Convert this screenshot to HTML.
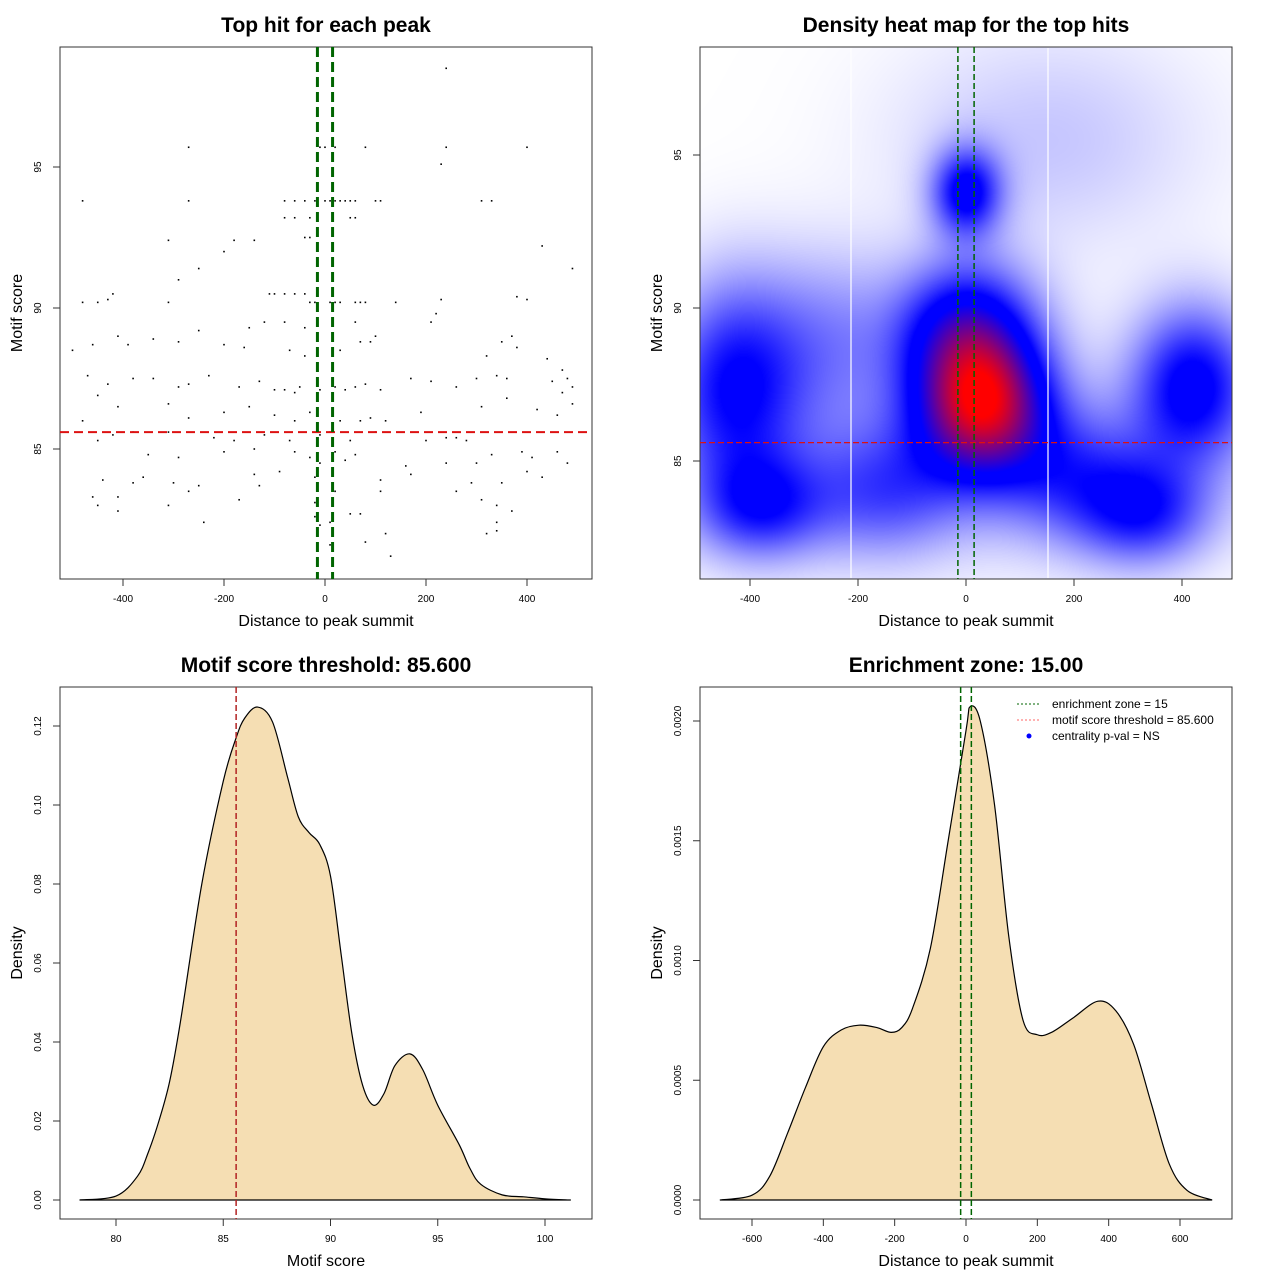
<!DOCTYPE html>
<html><head><meta charset="utf-8"><style>
body{margin:0;background:#fff;}
#wrap{position:relative;width:1280px;height:1280px;font-family:"Liberation Sans",sans-serif;}
canvas{position:absolute;left:700px;top:47px;}
svg{position:absolute;left:0;top:0;}
</style></head><body>
<div id="wrap">
<canvas id="hm" width="532" height="532"></canvas>
<svg id="s" width="1280" height="1280" xmlns="http://www.w3.org/2000/svg"></svg>
</div>
<script>
// ---------- data ----------
const scatterX=[240,-270,-10,0,20,80,240,400,230,-480,-270,-80,-60,-40,-20,0,10,20,30,40,50,60,100,110,310,330,-80,-60,-30,50,60,-40,-30,-310,-180,-140,-200,430,-250,490,-290,-110,-100,-80,-60,-40,-420,-430,-450,-480,-310,-30,-20,10,20,30,60,70,80,140,230,380,400,-250,-150,-120,-80,-40,60,100,-410,-460,-390,-340,-290,-200,-160,-70,-40,70,90,30,210,220,320,350,370,380,440,470,480,490,-500,-470,-430,-380,-340,-290,-270,-230,-170,-130,-100,-80,-60,-50,-10,20,40,60,80,110,170,210,260,300,340,360,450,470,-450,-410,-310,-270,-200,-150,-100,-60,-30,30,70,90,120,190,310,360,420,460,490,-480,-420,-310,-220,-180,-120,-70,-10,10,50,100,200,240,260,280,-450,-380,-350,-290,-200,-140,-60,-30,-10,20,40,60,160,240,300,330,390,410,460,480,-360,-300,-250,-140,-90,-20,20,110,170,260,290,350,400,430,-440,-460,-410,-380,-450,-410,-310,-270,-170,-130,-20,50,70,110,310,340,370,-240,-10,-20,10,340,320,340,120,80,10,130];
const scatterY=[98.5,95.7,95.7,95.7,95.7,95.7,95.7,95.7,95.1,93.8,93.8,93.8,93.8,93.8,93.8,93.8,93.8,93.8,93.8,93.8,93.8,93.8,93.8,93.8,93.8,93.8,93.2,93.2,93.2,93.2,93.2,92.5,92.5,92.4,92.4,92.4,92,92.2,91.4,91.4,91,90.5,90.5,90.5,90.5,90.5,90.5,90.3,90.2,90.2,90.2,90.2,90.2,90.2,90.2,90.2,90.2,90.2,90.2,90.2,90.3,90.4,90.3,89.2,89.3,89.5,89.5,89.3,89.5,89,89,88.7,88.7,88.9,88.8,88.7,88.6,88.5,88.3,88.8,88.8,88.5,89.5,89.8,88.3,88.8,89,88.6,88.2,87.8,87.5,87.2,88.5,87.6,87.3,87.5,87.5,87.2,87.3,87.6,87.2,87.4,87.1,87.1,87,87.2,87.1,87.2,87.1,87.2,87.3,87.1,87.5,87.4,87.2,87.5,87.6,87.5,87.4,87,86.9,86.5,86.6,86.1,86.3,86.5,86.2,86,86.3,86,86,86.1,86,86.3,86.5,86.8,86.4,86.2,86.6,86,85.5,85.6,85.4,85.3,85.5,85.3,85.5,85.6,85.3,85.6,85.3,85.4,85.4,85.3,85.3,85.6,84.8,84.7,84.9,85,84.9,84.7,84.5,84.9,84.6,84.8,84.4,84.5,84.5,84.8,84.9,84.7,84.9,84.5,84,83.8,83.7,84.1,84.2,84,83.5,83.9,84.1,83.5,83.8,83.8,84.2,84,83.9,83.3,83.3,83.8,83,82.8,83,83.5,83.2,83.7,83.1,82.7,82.7,83.5,83.2,83,82.8,82.4,82.3,82.6,82.4,82.4,82,82.1,82,81.7,81.6,81.2];
// heatmap kernel blobs: center x, center score, spread x, spread score, weight
const blobX=[30,0,0,-430,-380,420,330,-150,200,-250,150,0];
const blobY=[86.8,89.3,93.8,87.5,83.5,87.5,83.3,84,84.5,89,95.5,85];
const blobSX=[85,90,45,90,85,80,85,100,100,100,200,400];
const blobSY=[1.6,1.6,1.0,2.4,1.2,1.8,1.2,1.5,1.5,2,2.5,2.2];
const blobW=[0.85,0.5,0.45,0.42,0.33,0.47,0.33,0.25,0.25,0.18,0.1,0.1];
const scoreX=[78.3,80,81,81.5,82,82.5,83,84,85,85.6,86,86.6,87.3,88,88.5,89,89.5,90,90.5,91,91.5,92,92.5,93,93.7,94.3,95,96,96.5,97,98,99,100,101.2];
const scoreD=[0,0.001,0.006,0.012,0.02,0.03,0.045,0.08,0.106,0.117,0.122,0.1248,0.121,0.107,0.097,0.093,0.09,0.082,0.062,0.042,0.029,0.024,0.027,0.034,0.037,0.033,0.024,0.014,0.008,0.004,0.0013,0.0008,0.0003,0];
const distX=[-690,-600,-550,-500,-450,-400,-350,-300,-250,-210,-180,-150,-100,-50,0,12,40,80,120,160,200,240,300,370,420,470,520,570,620,690];
const distD=[0,0.00002,0.0001,0.00028,0.00047,0.00064,0.00071,0.00073,0.00072,0.0007,0.00072,0.0008,0.00105,0.0015,0.00196,0.00206,0.002,0.00165,0.0011,0.00075,0.00069,0.0007,0.00076,0.00083,0.00079,0.00065,0.0004,0.00015,0.00004,0];
const ticks1X=[-400,-200,0,200,400], ticks1Y=[85,90,95];
const ticks3X=[80,85,90,95,100], ticks3Y=["0.00","0.02","0.04","0.06","0.08","0.10","0.12"];
const ticks4X=[-600,-400,-200,0,200,400,600], ticks4Y=["0.0000","0.0005","0.0010","0.0015","0.0020"];
const threshold=85.6, zone=15;

// ---------- helpers ----------
const S=document.getElementById('s'),NS='http://www.w3.org/2000/svg';
function mk(t,a,txt){const e=document.createElementNS(NS,t);for(const k in a)e.setAttribute(k,a[k]);if(txt!==undefined)e.textContent=txt;S.appendChild(e);return e;}
function lin(d0,d1,p0,p1){return v=>p0+(v-d0)*(p1-p0)/(d1-d0);}
function panel(L,T,xs,ys,xt,yt,title,xl,yl,name){
  let e=mk('rect',{x:L,y:T,width:532,height:532,fill:'none',stroke:'#333','stroke-width':1});
  
  e=mk('text',{x:L+266,y:T-15,'text-anchor':'middle','font-size':21,'font-weight':'bold'},title);
  
  e=mk('text',{x:L+266,y:T+579,'text-anchor':'middle','font-size':16},xl);
  
  e=mk('text',{x:0,y:0,'text-anchor':'middle','font-size':16,transform:`translate(${L-38},${T+266}) rotate(-90)`},yl);
  
  xt.forEach(v=>{const p=xs(+v);
    mk('line',{x1:p,x2:p,y1:T+532,y2:T+539,stroke:'#333'});
    e=mk('text',{x:p,y:T+555,'text-anchor':'middle','font-size':10},v);
    });
  yt.forEach(v=>{const p=ys(+v);
    mk('line',{x1:L,x2:L-7,y1:p,y2:p,stroke:'#333'});
    e=mk('text',{x:0,y:0,'text-anchor':'middle','font-size':10,transform:`translate(${L-19},${p}) rotate(-90)`},v);
    });
}
function density(xa,ya,xs,ys,name){
  let d=`M${xs(xa[0])},${ys(0)}`;
  const pts=xa.map((x,i)=>[xs(x),ys(ya[i])]);
  for(let i=0;i<pts.length-1;i++){
    const p0=pts[Math.max(0,i-1)],p1=pts[i],p2=pts[i+1],p3=pts[Math.min(pts.length-1,i+2)];
    const c1=[p1[0]+(p2[0]-p0[0])/6,p1[1]+(p2[1]-p0[1])/6],c2=[p2[0]-(p3[0]-p1[0])/6,p2[1]-(p3[1]-p1[1])/6];
    if(i==0)d+=`L${p1[0]},${p1[1]}`;
    d+=`C${c1[0]},${c1[1]} ${c2[0]},${c2[1]} ${p2[0]},${p2[1]}`;
  }
  d+='Z';
  const e=mk('path',{d:d,fill:'#f5deb3',stroke:'#000','stroke-width':1.2});
  
}

// ---------- panel 1 scatter ----------
const x1=lin(0,200,325,426),y1=lin(85,90,449,308);
panel(60,47,x1,y1,ticks1X,ticks1Y,'Top hit for each peak','Distance to peak summit','Motif score','scatter');
scatterX.forEach((x,i)=>{const e=mk('rect',{x:x1(x)-0.8,y:y1(scatterY[i])-0.8,width:1.6,height:1.6,fill:'#000'});
  });
let e=mk('line',{x1:60,x2:592,y1:y1(threshold),y2:y1(threshold),stroke:'#dd1111','stroke-width':2,'stroke-dasharray':'9,5'});

[-zone,zone].forEach(z=>{e=mk('line',{x1:x1(z),x2:x1(z),y1:47,y2:579,stroke:'#006400','stroke-width':3,'stroke-dasharray':'10,5'});
  });

// ---------- panel 2 heatmap ----------
const x2=lin(0,200,966,1074),y2=lin(85,90,461,308);
const cv=document.getElementById('hm'),ctx=cv.getContext('2d'),img=ctx.createImageData(532,532);
for(let py=0;py<532;py++)for(let px=0;px<532;px++){
  const dx=(px+700-966)*200/108, dy=90+(308-(py+47))*5/153;
  let d=0;for(let k=0;k<blobX.length;k++){const a=(dx-blobX[k])/blobSX[k],b=(dy-blobY[k])/blobSY[k];d+=blobW[k]*Math.exp(-0.5*(a*a+b*b));}
  let r,g,bl;
  if(d<0.45){const t=d/0.45;r=255*(1-t);g=255*(1-t);bl=255;}
  else if(d<0.55){r=0;g=0;bl=255;}
  else{const t=Math.min(1,(d-0.55)/0.5);r=255*t;g=0;bl=255*(1-t);}
  const o=(py*532+px)*4;img.data[o]=r;img.data[o+1]=g;img.data[o+2]=bl;img.data[o+3]=255;}
ctx.putImageData(img,0,0);
panel(700,47,x2,y2,ticks1X,ticks1Y,'Density heat map for the top hits','Distance to peak summit','Motif score','heatmap');
[851,1048].forEach(p=>mk('line',{x1:p,x2:p,y1:48,y2:578,stroke:'#fff','stroke-width':1.2}));
e=mk('line',{x1:700,x2:1232,y1:y2(threshold),y2:y2(threshold),stroke:'#dd1111','stroke-width':1.3,'stroke-dasharray':'6,3'});

[-zone,zone].forEach(z=>{e=mk('line',{x1:x2(z),x2:x2(z),y1:47,y2:579,stroke:'#006400','stroke-width':1.5,'stroke-dasharray':'6,3'});
  });

// ---------- panel 3 ----------
const x3=lin(80,100,116,545),y3=lin(0,0.12,1200,726);
panel(60,687,x3,y3,ticks3X,ticks3Y,'Motif score threshold: 85.600','Motif score','Density','score-density');
mk('line',{x1:x3(78.3),x2:x3(101.2),y1:1200,y2:1200,stroke:'#000'});
density(scoreX,scoreD,x3,y3,'score-density-curve');
e=mk('line',{x1:x3(threshold),x2:x3(threshold),y1:687,y2:1219,stroke:'#b22222','stroke-width':1.5,'stroke-dasharray':'6,3'});


// ---------- panel 4 ----------
const x4=lin(0,600,966,1180),y4=lin(0,0.002,1200,721);
panel(700,687,x4,y4,ticks4X,ticks4Y,'Enrichment zone: 15.00','Distance to peak summit','Density','distance-density');
mk('line',{x1:x4(-690),x2:x4(690),y1:1200,y2:1200,stroke:'#000'});
density(distX,distD,x4,y4,'distance-density-curve');
[-zone,zone].forEach(z=>{e=mk('line',{x1:x4(z),x2:x4(z),y1:687,y2:1219,stroke:'#006400','stroke-width':1.5,'stroke-dasharray':'6,3'});
  });
const lg=[['#006400','enrichment zone = 15'],['#ff6666','motif score threshold = 85.600'],['#0000ff','centrality p-val = NS']];
lg.forEach((l,i)=>{const y=704+i*16;
  if(i<2)mk('line',{x1:1017,x2:1041,y1:y,y2:y,stroke:l[0],'stroke-width':1,'stroke-dasharray':'2,2'});
  else mk('circle',{cx:1029,cy:y,r:2.5,fill:l[0]});
  e=mk('text',{x:1052,y:y+4,'font-size':12},l[1]);
  });
</script>
</body></html>
